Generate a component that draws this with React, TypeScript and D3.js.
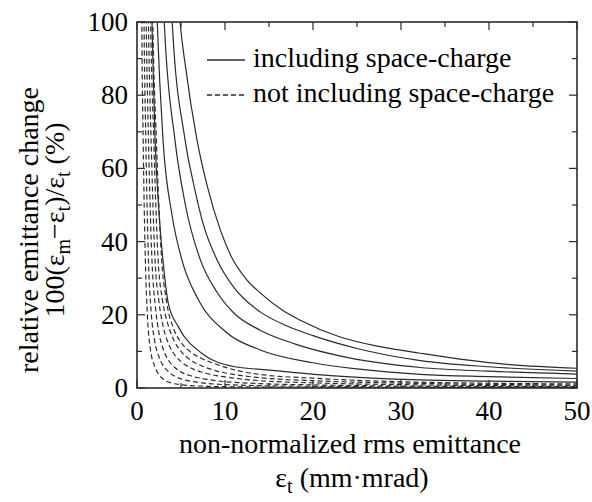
import React, { useEffect, useRef } from 'react';
import { select, scaleLinear, line, curveMonotoneX } from 'd3';

// tick labels
const xTicks = [0, 10, 20, 30, 40, 50];
const yTicks = [0, 20, 40, 60, 80, 100];

// including space-charge (solid)
const sc1X = [1.55, 1.7, 2.05, 2.5, 2.95, 3.56, 4.7, 7.35, 11.1, 14, 16.8, 22, 32.2, 40, 50];
const sc1Y = [115, 100, 68, 48, 35, 23.1, 16.7, 9.5, 5.8, 5.1, 4.5, 3.4, 2.2, 1.9, 1.6];
const sc2X = [2.1, 2.3, 2.95, 4, 5.1, 7, 10, 14, 20, 25, 32.2, 40, 50];
const sc2Y = [115, 100, 68, 47, 35, 24, 15.5, 10.4, 6.9, 5.2, 3.7, 3.1, 2.6];
const sc3X = [2.85, 3.1, 4.3, 5.5, 7.2, 9, 11, 14, 18, 24, 32.2, 40, 50];
const sc3Y = [115, 100, 68, 50, 35, 26.5, 20.5, 15.8, 12, 8.3, 5.6, 4.6, 3.8];
const sc4X = [3.7, 4.0, 5.45, 6.5, 7.5, 9.1, 11, 14, 17, 20, 25, 32.2, 40, 50];
const sc4Y = [115, 100, 68, 55, 45, 35, 27.5, 20.8, 17, 14.3, 10.8, 7.5, 5.8, 4.6];
const sc5X = [4.5, 4.9, 5.5, 6.8, 8, 9.5, 10.8, 12.5, 14, 16.5, 18.5, 23, 27.6, 32.2, 36.7, 42.4, 50];
const sc5Y = [115, 100, 88, 68, 55, 43, 35.5, 29.5, 26, 21.3, 18.6, 14, 11.3, 9.5, 7.9, 6.4, 5.4];

// not including space-charge (dashed)
const ns1X = [0.5, 0.55, 0.7, 0.95, 1.2, 1.5, 2, 2.5, 3, 4, 5, 7, 9, 14, 20, 32, 50];
const ns1Y = [125, 100, 68, 35, 19, 11, 6, 3.6, 2.4, 1.3, 0.9, 0.55, 0.4, 0.25, 0.18, 0.12, 0.08];
const ns2X = [0.72, 0.8, 1.0, 1.3, 1.6, 2, 2.5, 3, 3.6, 4.3, 5, 6, 7.4, 9, 14, 20, 32, 50];
const ns2Y = [125, 100, 68, 35, 21, 13, 8.5, 6, 4.4, 3.2, 2.5, 1.9, 1.4, 1.05, 0.65, 0.45, 0.3, 0.2];
const ns3X = [0.94, 1.05, 1.3, 1.7, 2.1, 2.5, 3, 3.6, 4.3, 5, 6, 7.4, 9, 14, 20, 32, 50];
const ns3Y = [125, 100, 68, 35, 22, 15, 10.5, 7.5, 5.6, 4.4, 3.4, 2.6, 2.0, 1.2, 0.85, 0.5, 0.35];
const ns4X = [1.17, 1.3, 1.6, 2.05, 2.5, 3, 3.6, 4.3, 5, 6, 7.4, 9, 11, 14, 20, 32, 50];
const ns4Y = [125, 100, 68, 35, 23.5, 16.5, 12, 9, 7.2, 5.6, 4.3, 3.4, 2.7, 2.0, 1.4, 0.85, 0.55];
const ns5X = [1.4, 1.55, 1.9, 2.4, 2.9, 3.5, 4.2, 5, 6, 7.4, 9, 11, 14, 20, 32, 50];
const ns5Y = [125, 100, 68, 35, 24, 17.5, 13, 10, 7.8, 6.0, 4.7, 3.7, 2.8, 2.0, 1.25, 0.8];
const ns6X = [1.65, 1.8, 2.2, 2.8, 3.3, 4.2, 5, 6, 7.4, 9, 11, 14, 20, 26, 32, 40, 50];
const ns6Y = [125, 100, 68, 35, 24.5, 16, 12.5, 10, 8, 6.5, 5.0, 3.7, 2.7, 2.0, 1.6, 1.3, 1.1];

const solidSeries = [
  [sc1X, sc1Y],
  [sc2X, sc2Y],
  [sc3X, sc3Y],
  [sc4X, sc4Y],
  [sc5X, sc5Y]
];
const dashedSeries = [
  [ns1X, ns1Y],
  [ns2X, ns2Y],
  [ns3X, ns3Y],
  [ns4X, ns4Y],
  [ns5X, ns5Y],
  [ns6X, ns6Y]
];

const canvasWidth = 592;
const canvasHeight = 502;
const plot = { left: 137, right: 577, top: 22, bottom: 388 };
const font = "'Liberation Serif', 'DejaVu Serif', serif";
const ink = '#2b2b2b';

function App() {
  const svgRef = useRef<SVGSVGElement>(null);

  useEffect(() => {
    const svg = select(svgRef.current);
    svg.selectAll('*').remove();

    const x = scaleLinear().domain([0, 50]).range([plot.left, plot.right]);
    const y = scaleLinear().domain([0, 100]).range([plot.bottom, plot.top]);

    svg
      .append('defs')
      .append('clipPath')
      .attr('id', 'plot-clip')
      .append('rect')
      .attr('x', plot.left)
      .attr('y', plot.top)
      .attr('width', plot.right - plot.left)
      .attr('height', plot.bottom - plot.top);

    const path = line<number>()
      .curve(curveMonotoneX);

    const curves = svg.append('g').attr('clip-path', 'url(#plot-clip)');
    function drawSeries(series: number[][][], dash: string | null) {
      series.forEach(([xs, ys]) => {
        const gen = path.x((_, i) => x(xs[i])).y((_, i) => y(ys[i]));
        curves
          .append('path')
          .attr('d', gen(xs))
          .attr('fill', 'none')
          .attr('stroke', ink)
          .attr('stroke-width', 1.2)
          .attr('stroke-dasharray', dash);
      });
    }
    drawSeries(dashedSeries, '5,3');
    drawSeries(solidSeries, null);

    // ticks, inward on all four sides
    const ticks = svg.append('g').attr('stroke', ink).attr('stroke-width', 1.2);
    for (let v = 0; v <= 50; v += 5) {
      const len = v % 10 === 0 ? 8 : 5;
      ticks.append('line').attr('x1', x(v)).attr('x2', x(v)).attr('y1', plot.bottom).attr('y2', plot.bottom - len);
      ticks.append('line').attr('x1', x(v)).attr('x2', x(v)).attr('y1', plot.top).attr('y2', plot.top + len);
    }
    for (let v = 0; v <= 100; v += 10) {
      const len = v % 20 === 0 ? 8 : 5;
      ticks.append('line').attr('y1', y(v)).attr('y2', y(v)).attr('x1', plot.left).attr('x2', plot.left + len);
      ticks.append('line').attr('y1', y(v)).attr('y2', y(v)).attr('x1', plot.right).attr('x2', plot.right - len);
    }

    svg
      .append('rect')
      .attr('x', plot.left)
      .attr('y', plot.top)
      .attr('width', plot.right - plot.left)
      .attr('height', plot.bottom - plot.top)
      .attr('fill', 'none')
      .attr('stroke', ink)
      .attr('stroke-width', 1.6);

    // tick labels
    const labels = svg.append('g').style('font-family', font).style('font-size', '27px').attr('fill', '#000');
    xTicks.forEach(v => {
      labels.append('text').attr('x', x(v)).attr('y', 420).attr('text-anchor', 'middle').text(v);
    });
    yTicks.forEach(v => {
      labels.append('text').attr('x', 128).attr('y', y(v) + 9).attr('text-anchor', 'end').text(v);
    });

    // legend
    const legend = svg.append('g').style('font-family', font).style('font-size', '28px');
    legend.append('line').attr('x1', 207).attr('x2', 245).attr('y1', 60).attr('y2', 60)
      .attr('stroke', ink).attr('stroke-width', 1.3);
    legend.append('line').attr('x1', 207).attr('x2', 245).attr('y1', 95).attr('y2', 95)
      .attr('stroke', ink).attr('stroke-width', 1.3).attr('stroke-dasharray', '5,3');
    legend.append('text').attr('x', 253).attr('y', 67).text('including space-charge');
    legend.append('text').attr('x', 253).attr('y', 102).text('not including space-charge');

    // axis titles
    const titles = svg.append('g').style('font-family', font).style('font-size', '28px').attr('fill', '#000');
    titles.append('text').attr('x', 350).attr('y', 453).attr('text-anchor', 'middle')
      .text('non-normalized rms emittance');
    const xt = titles.append('text').attr('x', 352).attr('y', 487).attr('text-anchor', 'middle');
    xt.append('tspan').text('ε');
    xt.append('tspan').style('font-size', '20px').attr('dy', 6).text('t');
    xt.append('tspan').attr('dy', -6).text(' (mm·mrad)');

    titles.append('text')
      .attr('transform', 'translate(38,230) rotate(-90)')
      .attr('text-anchor', 'middle')
      .text('relative emittance change');
    const yt = titles.append('text')
      .attr('transform', 'translate(64,220) rotate(-90)')
      .attr('text-anchor', 'middle');
    yt.append('tspan').text('100(ε');
    yt.append('tspan').style('font-size', '20px').attr('dy', 6).text('m');
    yt.append('tspan').attr('dy', -6).text('−ε');
    yt.append('tspan').style('font-size', '20px').attr('dy', 6).text('t');
    yt.append('tspan').attr('dy', -6).text(')/ε');
    yt.append('tspan').style('font-size', '20px').attr('dy', 6).text('t');
    yt.append('tspan').attr('dy', -6).text(' (%)');
  }, []);

  return (
    <svg
      ref={svgRef}
      width={canvasWidth}
      height={canvasHeight}
      style={{ position: 'absolute', left: 0, top: 0, background: '#fff' }}
    />
  );
}

export default App;
